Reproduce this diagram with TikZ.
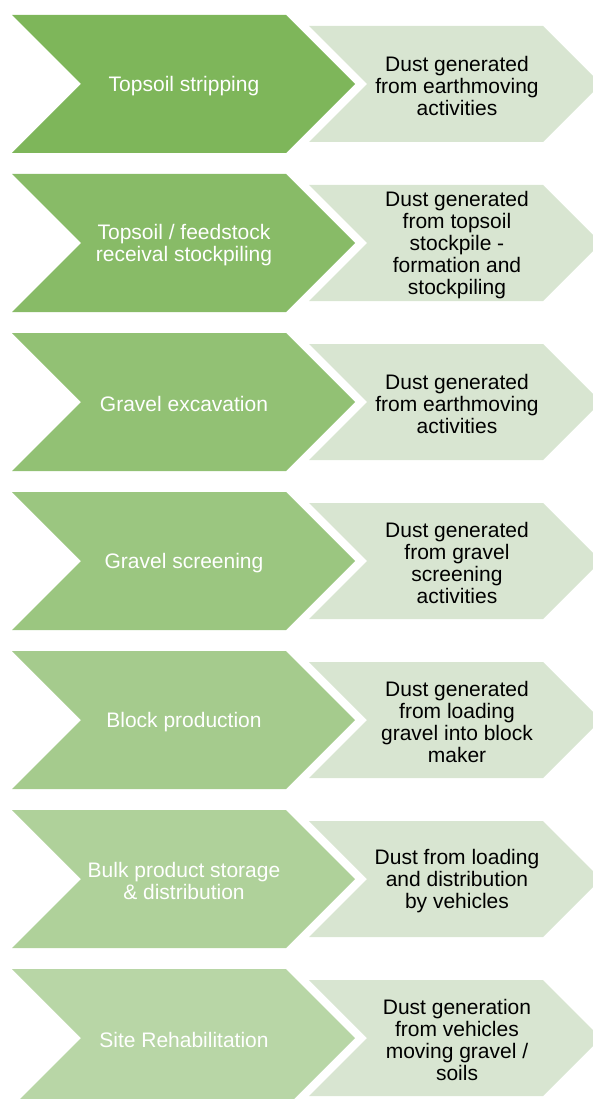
\documentclass[tikz,border=0pt]{standalone}
\usepackage{fontspec}
\setmainfont{Liberation Sans}
\definecolor{stagedark}{RGB}{126,182,90}
\definecolor{stagelight}{RGB}{184,214,166}
\definecolor{dustfill}{RGB}{216,229,209}
\begin{document}
\begin{tikzpicture}[x=1pt,y=-1pt,
  stagetext/.style={text=white, align=center, font=\fontsize{21}{22}\selectfont},
  dusttext/.style={text=black, align=center, font=\fontsize{21}{22}\selectfont}]
\useasboundingbox (0,0) rectangle (593,1099);
\clip (0,0) rectangle (593,1099);

\foreach \i/\stg/\dst in {
  0/{Topsoil stripping}/{Dust generated\\from earthmoving\\activities},
  1/{Topsoil / feedstock\\receival stockpiling}/{Dust generated\\from topsoil\\stockpile -\\formation and\\stockpiling},
  2/{Gravel excavation}/{Dust generated\\from earthmoving\\activities},
  3/{Gravel screening}/{Dust generated\\from gravel\\screening\\activities},
  4/{Block production}/{Dust generated\\from loading\\gravel into block\\maker},
  5/{Bulk product storage\\\& distribution}/{Dust from loading\\and distribution\\by vehicles},
  6/{Site Rehabilitation}/{Dust generation\\from vehicles\\moving gravel /\\soils}}{
  \pgfmathsetmacro{\c}{84+159*\i}
  \pgfmathtruncatemacro{\mix}{100-100*\i/6}
  % stage chevron
  \fill[stagedark!\mix!stagelight] (12,\c-69) -- (286,\c-69) -- (355,\c) -- (286,\c+69) -- (12,\c+69) -- (81,\c) -- cycle;
  % dust chevron
  \fill[dustfill] (309,\c-58) -- (543,\c-58) -- (601,\c) -- (543,\c+58) -- (309,\c+58) -- (367,\c) -- cycle;
  \node[stagetext] (stage\i) at (184,\c+2) {\stg};
  \node[dusttext] (dust\i) at (457,\c+2) {\dst};
}
\end{tikzpicture}
\end{document}
